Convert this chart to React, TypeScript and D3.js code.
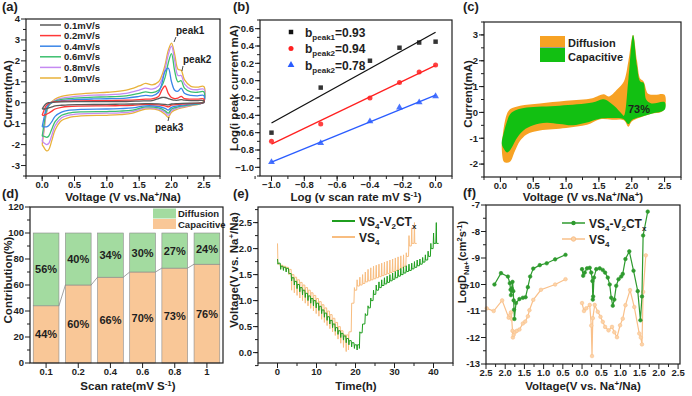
import React, { useEffect } from 'react';
import * as d3 from 'd3';

const FONT = "'Liberation Sans', Arial, sans-serif";
const INK = '#1e1e1e';

// ---------- (a) CV curves at different scan rates ----------
const CV_RATES = ['0.1mV/s', '0.2mV/s', '0.4mV/s', '0.6mV/s', '0.8mV/s', '1.0mV/s'];
const CV_COLORS = ['#5a5a5a', '#ff3838', '#3a86e8', '#3cbf6e', '#c58af2', '#e8b23a'];
const CV_UP_V = [0.0, 0.03, 0.06, 0.1, 0.15, 0.2, 0.3, 0.5, 0.8, 1.0, 1.3, 1.5, 1.6, 1.7, 1.8, 1.85, 1.9, 1.95, 2.0, 2.05, 2.1, 2.15, 2.2, 2.3, 2.4, 2.5];
const CV_DOWN_V = [2.5, 2.45, 2.3, 2.1, 2.0, 1.95, 1.9, 1.8, 1.6, 1.4, 1.2, 1.0, 0.6, 0.4, 0.3, 0.2, 0.15, 0.1, 0.07, 0.04, 0.02, 0.0];
const CV_UP_I = [
  [-0.3, -0.15, -0.05, 0.0, 0.02, 0.03, 0.04, 0.05, 0.05, 0.05, 0.06, 0.08, 0.09, 0.1, 0.2, 0.25, 0.25, 0.2, 0.15, 0.12, 0.12, 0.15, 0.12, 0.1, 0.1, 0.1],
  [-0.6, -0.35, -0.15, -0.03, 0.02, 0.05, 0.07, 0.09, 0.1, 0.1, 0.12, 0.15, 0.17, 0.18, 0.3, 0.6, 0.8, 0.45, 0.25, 0.2, 0.22, 0.3, 0.2, 0.17, 0.17, 0.18],
  [-1.15, -0.7, -0.3, -0.08, 0.0, 0.05, 0.1, 0.15, 0.18, 0.19, 0.22, 0.3, 0.35, 0.33, 0.5, 0.9, 1.5, 1.65, 1.0, 0.6, 0.55, 0.7, 0.45, 0.35, 0.33, 0.35],
  [-1.6, -1.0, -0.45, -0.12, 0.0, 0.08, 0.16, 0.22, 0.27, 0.28, 0.33, 0.45, 0.52, 0.48, 0.6, 0.8, 1.2, 1.9, 2.35, 1.5, 1.0, 1.05, 0.7, 0.52, 0.5, 0.52],
  [-1.85, -1.2, -0.55, -0.15, 0.02, 0.12, 0.22, 0.3, 0.36, 0.38, 0.45, 0.6, 0.7, 0.65, 0.8, 1.1, 1.6, 2.3, 2.7, 2.0, 1.3, 1.3, 0.9, 0.65, 0.62, 0.65],
  [-2.0, -1.3, -0.6, -0.15, 0.05, 0.18, 0.3, 0.4, 0.47, 0.5, 0.6, 0.8, 0.92, 0.85, 1.0, 1.3, 1.8, 2.5, 2.85, 2.3, 1.6, 1.55, 1.1, 0.78, 0.75, 0.78],
];
const CV_DOWN_I = [
  [0.0, -0.01, -0.02, -0.04, -0.06, -0.1, -0.08, -0.05, -0.04, -0.06, -0.07, -0.08, -0.09, -0.1, -0.12, -0.15, -0.2, -0.25, -0.28, -0.3, -0.3, -0.3],
  [0.02, -0.02, -0.04, -0.08, -0.12, -0.2, -0.15, -0.1, -0.08, -0.12, -0.14, -0.15, -0.16, -0.18, -0.22, -0.3, -0.4, -0.5, -0.55, -0.58, -0.6, -0.6],
  [0.03, -0.03, -0.07, -0.15, -0.22, -0.35, -0.27, -0.18, -0.15, -0.25, -0.28, -0.3, -0.32, -0.36, -0.45, -0.65, -0.9, -1.1, -1.15, -1.15, -1.15, -1.15],
  [0.05, -0.04, -0.1, -0.2, -0.3, -0.5, -0.38, -0.25, -0.2, -0.35, -0.4, -0.42, -0.44, -0.5, -0.6, -0.9, -1.25, -1.6, -1.65, -1.62, -1.6, -1.6],
  [0.05, -0.05, -0.12, -0.25, -0.38, -0.6, -0.45, -0.3, -0.25, -0.42, -0.48, -0.5, -0.53, -0.6, -0.72, -1.1, -1.55, -1.95, -2.0, -1.95, -1.9, -1.85],
  [0.1, -0.05, -0.15, -0.3, -0.45, -0.7, -0.55, -0.35, -0.3, -0.5, -0.57, -0.6, -0.63, -0.72, -0.85, -1.3, -1.8, -2.25, -2.3, -2.2, -2.1, -2.0],
];

// ---------- (b) log(i) vs log(v) ----------
const LOG_V = [-1.0, -0.7, -0.4, -0.22, -0.1, 0.0];
const LOG_I_PEAK1 = [-0.6, -0.08, 0.23, 0.38, 0.44, 0.45];
const LOG_I_PEAK2 = [-0.7, -0.5, -0.2, -0.02, 0.1, 0.18];
const LOG_I_PEAK3 = [-0.94, -0.72, -0.47, -0.31, -0.25, -0.18];
const B_LABELS = [['peak1', '=0.93'], ['peak2', '=0.94'], ['peak2', '=0.78']];

// ---------- (c) capacitive share at 1.0 mV/s ----------
const C_TOTAL_UP_V = [0.02, 0.05, 0.1, 0.15, 0.3, 0.6, 1.0, 1.4, 1.57, 1.65, 1.78, 1.88, 1.95, 2.02, 2.08, 2.13, 2.18, 2.25, 2.35, 2.5];
const C_TOTAL_UP_I = [-1.3, -0.6, -0.05, 0.13, 0.26, 0.35, 0.45, 0.55, 0.7, 0.62, 0.9, 1.2, 2.0, 3.0, 2.0, 1.3, 1.2, 0.72, 0.68, 0.68];
const C_TOTAL_DOWN_V = [2.5, 2.45, 2.3, 2.13, 2.0, 1.95, 1.88, 1.7, 1.52, 1.32, 1.0, 0.6, 0.4, 0.3, 0.22, 0.15, 0.1, 0.05, 0.02];
const C_TOTAL_DOWN_I = [0.15, 0.02, -0.05, -0.2, -0.35, -0.55, -0.3, -0.28, -0.26, -0.48, -0.6, -0.7, -0.85, -1.1, -1.5, -1.9, -1.95, -1.9, -1.3];
const C_CAP_UP_V = [0.02, 0.05, 0.1, 0.15, 0.25, 0.4, 0.9, 1.4, 1.57, 1.73, 1.85, 1.88, 1.95, 2.02, 2.08, 2.13, 2.18, 2.22, 2.3, 2.5];
const C_CAP_UP_I = [-1.2, -0.8, -0.35, -0.06, 0.1, 0.19, 0.26, 0.38, 0.51, 0.26, -0.06, -0.13, 1.3, 3.0, 1.8, 1.2, 1.15, 0.5, 0.35, 0.4];
const C_CAP_DOWN_V = [2.5, 2.3, 2.1, 2.0, 1.95, 1.87, 1.7, 1.5, 1.3, 1.1, 0.9, 0.7, 0.5, 0.35, 0.25, 0.15, 0.1, 0.05];
const C_CAP_DOWN_I = [0.1, -0.05, -0.2, -0.3, -0.45, -0.25, -0.22, -0.25, -0.4, -0.5, -0.45, -0.4, -0.5, -0.7, -1.0, -1.45, -1.55, -1.4];

// ---------- (d) contribution bars ----------
const D_RATES = ['0.1', '0.2', '0.4', '0.6', '0.8', '1'];
const D_CAPACITIVE = [44, 60, 66, 70, 73, 76];
const D_DIFFUSION = [56, 40, 34, 30, 27, 24];

// ---------- (e) GITT profiles ----------
const GITT_STEP = 0.7; // h per titration
const E_GREEN_DIS_START = 0;
const E_GREEN_DIS_REST = [1.8, 1.72, 1.66, 1.64, 1.62, 1.52, 1.44, 1.37, 1.31, 1.25, 1.2, 1.14, 1.09, 1.04, 1.0, 0.95, 0.89, 0.82, 0.76, 0.69, 0.62, 0.55, 0.48, 0.42, 0.37, 0.32, 0.27, 0.23, 0.19, 0.15];
const E_GREEN_DIS_PULSE = [1.7, 1.6, 1.58, 1.55, 1.52, 1.38, 1.3, 1.23, 1.17, 1.11, 1.06, 1.0, 0.95, 0.9, 0.86, 0.81, 0.75, 0.68, 0.62, 0.55, 0.48, 0.41, 0.35, 0.29, 0.24, 0.19, 0.15, 0.11, 0.08, 0.05];
const E_GREEN_CHG_START = 21.0;
const E_GREEN_CHG_REST = [0.08, 0.38, 0.55, 0.72, 0.86, 1.0, 1.12, 1.2, 1.25, 1.29, 1.32, 1.35, 1.38, 1.41, 1.44, 1.47, 1.5, 1.53, 1.56, 1.58, 1.61, 1.64, 1.67, 1.7, 1.74, 1.78, 1.85, 2.0, 2.1];
const E_GREEN_CHG_PULSE = [0.4, 0.55, 0.75, 0.9, 1.05, 1.2, 1.3, 1.36, 1.4, 1.44, 1.47, 1.5, 1.53, 1.56, 1.59, 1.62, 1.65, 1.67, 1.7, 1.72, 1.75, 1.78, 1.8, 1.83, 1.88, 1.95, 2.1, 2.3, 2.5];
const E_ORANGE_DIS_START = 0;
const E_ORANGE_DIS_REST = [2.1, 1.7, 1.68, 1.66, 1.64, 1.6, 1.5, 1.45, 1.4, 1.35, 1.3, 1.25, 1.2, 1.15, 1.1, 1.04, 0.98, 0.92, 0.86, 0.8, 0.73, 0.66, 0.58, 0.5, 0.42, 0.34];
const E_ORANGE_DIS_PULSE = [1.7, 1.62, 1.6, 1.58, 1.5, 1.2, 1.15, 1.1, 1.05, 1.0, 0.95, 0.9, 0.85, 0.8, 0.75, 0.7, 0.64, 0.58, 0.52, 0.46, 0.4, 0.33, 0.26, 0.18, 0.1, 0.02];
const E_ORANGE_CHG_START = 18.2;
const E_ORANGE_CHG_REST = [0.05, 0.4, 0.95, 1.2, 1.28, 1.3, 1.33, 1.36, 1.38, 1.4, 1.42, 1.44, 1.46, 1.48, 1.5, 1.52, 1.54, 1.56, 1.58, 1.6, 1.63, 1.66, 1.85, 2.05, 2.1];
const E_ORANGE_CHG_PULSE = [0.4, 0.95, 1.25, 1.4, 1.45, 1.5, 1.55, 1.6, 1.63, 1.66, 1.68, 1.7, 1.72, 1.74, 1.76, 1.78, 1.8, 1.82, 1.84, 1.86, 1.88, 1.92, 2.25, 2.4, 2.5];

// ---------- (f) diffusion coefficients ----------
const F_GREEN_DIS_V = [2.28, 2.11, 1.93, 1.88, 1.86, 1.85, 1.83, 1.81, 1.79, 1.78, 1.77, 1.76, 1.72, 1.63, 1.54, 1.47, 1.41, 1.35, 1.27, 1.1, 0.92, 0.7, 0.43];
const F_GREEN_DIS_D = [-10.0, -9.57, -9.7, -9.95, -10.2, -10.4, -10.15, -9.9, -10.25, -10.6, -10.95, -11.3, -10.7, -10.55, -10.5, -10.48, -10.1, -9.7, -9.4, -9.27, -9.2, -9.05, -8.88];
const F_GREEN_CHG_V = [0.0, 0.03, 0.07, 0.13, 0.2, 0.24, 0.27, 0.28, 0.29, 0.31, 0.37, 0.46, 0.54, 0.6, 0.67, 0.72, 0.76, 0.8, 0.84, 0.89, 0.95, 1.02, 1.06, 1.13, 1.23, 1.34, 1.45, 1.52, 1.56, 1.59, 1.71];
const F_GREEN_CHG_D = [-9.42, -9.67, -9.55, -9.39, -9.37, -9.55, -9.87, -10.57, -10.45, -9.74, -9.42, -9.39, -9.45, -9.55, -9.74, -10.0, -10.5, -10.8, -10.57, -10.05, -9.8, -9.7, -9.6, -9.04, -8.75, -9.48, -10.25, -11.35, -10.45, -8.15, -7.25];
const F_ORANGE_DIS_V = [2.48, 2.3, 2.08, 1.91, 1.87, 1.85, 1.83, 1.81, 1.8, 1.78, 1.75, 1.7, 1.63, 1.54, 1.48, 1.41, 1.37, 1.27, 1.07, 0.7, 0.43];
const F_ORANGE_DIS_D = [-10.9, -11.0, -10.6, -11.25, -11.15, -11.05, -11.3, -11.75, -12.0, -11.9, -11.8, -11.75, -11.7, -11.47, -11.4, -11.2, -10.97, -10.58, -10.2, -10.0, -9.8];
const F_ORANGE_CHG_V = [0.0, 0.05, 0.11, 0.2, 0.24, 0.26, 0.28, 0.33, 0.41, 0.48, 0.54, 0.6, 0.69, 0.78, 0.84, 0.91, 0.99, 1.06, 1.13, 1.25, 1.36, 1.49, 1.53, 1.56, 1.59, 1.66];
const F_ORANGE_CHG_D = [-10.7, -11.0, -10.9, -10.77, -11.55, -12.7, -11.27, -10.77, -11.03, -11.22, -11.41, -11.6, -11.73, -11.6, -11.8, -11.99, -11.54, -11.29, -10.78, -10.21, -10.85, -11.85, -12.0, -12.26, -10.28, -8.9];

const GREEN_E = '#1f9e1f';
const ORANGE_E = '#f8bd80';

type Lin = d3.ScaleLinear<number, number>;

function zip(a: number[], b: number[]): [number, number][] {
  return a.map((v, i) => [v, b[i]]);
}

function Frame({ x, y, xTicks, yTicks, xFmt, yFmt, xMinor = [], yMinor = [] }: {
  x: Lin; y: Lin; xTicks: number[]; yTicks: number[];
  xFmt: (v: number) => string; yFmt: (v: number) => string;
  xMinor?: number[]; yMinor?: number[];
}) {
  const [l, r] = x.range();
  const [b, t] = y.range();
  return (
    <g fontFamily={FONT} fontWeight="bold" fontSize={9.5} fill={INK}>
      <rect x={l} y={t} width={r - l} height={b - t} fill="none" stroke={INK} strokeWidth={1.2} />
      {xMinor.map((v, i) => <line key={'xm' + i} x1={x(v)} x2={x(v)} y1={b} y2={b + 3} stroke={INK} />)}
      {yMinor.map((v, i) => <line key={'ym' + i} x1={l - 3} x2={l} y1={y(v)} y2={y(v)} stroke={INK} />)}
      {xTicks.map((v, i) => (
        <g key={'x' + i}>
          <line x1={x(v)} x2={x(v)} y1={b} y2={b + 5} stroke={INK} />
          <text x={x(v)} y={b + 12} textAnchor="middle">{xFmt(v)}</text>
        </g>
      ))}
      {yTicks.map((v, i) => (
        <g key={'y' + i}>
          <line x1={l - 5} x2={l} y1={y(v)} y2={y(v)} stroke={INK} />
          <text x={l - 6} y={y(v) + 3.3} textAnchor="end">{yFmt(v)}</text>
        </g>
      ))}
    </g>
  );
}

function gittPoints(start: number, rest: number[], pulse: number[]): [number, number][] {
  const pts: [number, number][] = [];
  rest.forEach((r, i) => {
    const t = start + i * GITT_STEP;
    const next = i + 1 < rest.length ? rest[i + 1] : r;
    pts.push([t, r], [t + 0.12, pulse[i]], [t + 0.2, next], [t + GITT_STEP, next]);
  });
  return pts;
}

const fmt1 = d3.format('.1f');
const range = (a: number, b: number, s: number) => d3.range(a, b + s / 2, s).map((v) => +v.toFixed(3));

export default function App() {
  useEffect(() => { document.body.style.margin = '0'; }, []);

  // scales
  const xA = d3.scaleLinear().domain([-0.25, 2.75]).range([26, 220]);
  const yA = d3.scaleLinear().domain([-3.5, 4]).range([176, 19]);
  const xB = d3.scaleLinear().domain([-1.07, 0.1]).range([260, 452]);
  const yB = d3.scaleLinear().domain([-1.1, 0.7]).range([176, 20]);
  const xC = d3.scaleLinear().domain([-0.25, 2.75]).range([484, 681]);
  const yC = d3.scaleLinear().domain([-2.5, 3.5]).range([177, 22]);
  const xD = d3.scaleBand().domain(D_RATES).range([30, 223]).paddingInner(0.2).paddingOuter(0.1);
  const yD = d3.scaleLinear().domain([0, 120]).range([363, 207]);
  const xE = d3.scaleLinear().domain([-5, 45]).range([258, 453]);
  const yE = d3.scaleLinear().domain([-0.2, 2.8]).range([363, 207]);
  const xF = d3.scaleLinear().domain([-2.5, 2.55]).range([486, 680]);
  const yF = d3.scaleLinear().domain([-13, -7]).range([364, 205]);

  const lineA = d3.line<[number, number]>().x((d) => xA(d[0])).y((d) => yA(d[1])).curve(d3.curveCatmullRom.alpha(0.5));
  const areaC = d3.line<[number, number]>().x((d) => xC(d[0])).y((d) => yC(d[1])).curve(d3.curveCatmullRomClosed.alpha(0.5));
  const lineE = d3.line<[number, number]>().x((d) => xE(d[0])).y((d) => yE(d[1]));
  const lineF = d3.line<[number, number]>().x((d) => xF(d[0])).y((d) => yF(d[1]));

  // least-squares fits for (b)
  const fit = (ys: number[]) => {
    const mx = d3.mean(LOG_V)!;
    const my = d3.mean(ys)!;
    const sxy = d3.sum(LOG_V, (v, i) => (v - mx) * (ys[i] - my));
    const sxx = d3.sum(LOG_V, (v) => (v - mx) ** 2);
    const k = sxy / sxx;
    return [[-1, my + k * (-1 - mx)], [0, my + k * (0 - mx)]] as [number, number][];
  };
  const lineB = d3.line<[number, number]>().x((d) => xB(d[0])).y((d) => yB(d[1]));
  const B_SERIES = [
    { ys: LOG_I_PEAK1, color: '#111111', shape: d3.symbolSquare },
    { ys: LOG_I_PEAK2, color: '#ff2020', shape: d3.symbolCircle },
    { ys: LOG_I_PEAK3, color: '#2a5cff', shape: d3.symbolTriangle },
  ];

  const greenE = [...gittPoints(E_GREEN_DIS_START, E_GREEN_DIS_REST, E_GREEN_DIS_PULSE), ...gittPoints(E_GREEN_CHG_START, E_GREEN_CHG_REST, E_GREEN_CHG_PULSE)];
  const orangeE = [...gittPoints(E_ORANGE_DIS_START, E_ORANGE_DIS_REST, E_ORANGE_DIS_PULSE), ...gittPoints(E_ORANGE_CHG_START, E_ORANGE_CHG_REST, E_ORANGE_CHG_PULSE)];

  const F_SERIES = [
    { dis: zip(F_ORANGE_DIS_V.map((v) => -v), F_ORANGE_DIS_D), chg: zip(F_ORANGE_CHG_V, F_ORANGE_CHG_D), line: '#f9c08a', fill: '#fcd3a8' },
    { dis: zip(F_GREEN_DIS_V.map((v) => -v), F_GREEN_DIS_D), chg: zip(F_GREEN_CHG_V, F_GREEN_CHG_D), line: '#2e9a2e', fill: '#2e9a2e' },
  ];

  const title = { fontFamily: FONT, fontWeight: 'bold' as const, fontSize: 11.5, fill: INK };
  const panel = { fontFamily: FONT, fontWeight: 'bold' as const, fontSize: 13, fill: INK };

  return (
    <svg width={692} height={396} style={{ display: 'block', background: '#fff' }}>
      {/* ---------------- (a) ---------------- */}
      <g>
        {CV_RATES.map((_, k) => 5 - k).map((k) => (
          <path key={k} d={lineA([...zip(CV_UP_V, CV_UP_I[k]), ...zip(CV_DOWN_V, CV_DOWN_I[k])]) || ''}
            fill="none" stroke={CV_COLORS[k]} strokeWidth={1.3} />
        ))}
        <Frame x={xA} y={yA} xTicks={range(0, 2.5, 0.5)} yTicks={range(-3, 4, 1)} xFmt={fmt1} yFmt={(v) => String(v)}
          xMinor={range(-0.25, 2.75, 0.25)} yMinor={range(-3.5, 3.5, 1)} />
        {CV_RATES.map((r, k) => (
          <g key={r}>
            <line x1={40} x2={61} y1={25 + k * 10.6} y2={25 + k * 10.6} stroke={CV_COLORS[k]} strokeWidth={1.5} />
            <text x={64} y={28.5 + k * 10.6} fontFamily={FONT} fontWeight="bold" fontSize={9.5} fill={INK}>{r}</text>
          </g>
        ))}
        <g fontFamily={FONT} fontWeight="bold" fontSize={10} fill={INK}>
          <text x={176} y={34}>peak1</text>
          <line x1={176} y1={37} x2={174} y2={42} stroke={INK} strokeWidth={0.8} />
          <text x={183} y={63}>peak2</text>
          <line x1={183} y1={66} x2={182} y2={71} stroke={INK} strokeWidth={0.8} />
          <text x={155} y={131}>peak3</text>
          <line x1={168} y1={121} x2={169} y2={117} stroke={INK} strokeWidth={0.8} />
        </g>
        <text transform="translate(12,94) rotate(-90)" textAnchor="middle" {...title}>Current(mA)</text>
        <text x={123} y={201} textAnchor="middle" {...title}>Voltage (V vs.Na<tspan dy={-4} fontSize={8}>+</tspan><tspan dy={4}>/Na)</tspan></text>
        <text x={2} y={11} {...panel}>(a)</text>
      </g>

      {/* ---------------- (b) ---------------- */}
      <g>
        {B_SERIES.map((s, k) => (
          <g key={k}>
            <path d={lineB(fit(s.ys)) || ''} stroke={s.color} strokeWidth={1.3} fill="none" />
            {s.ys.map((v, i) => (
              <path key={i} transform={`translate(${xB(LOG_V[i])},${yB(v)})`} d={d3.symbol(s.shape, 20)() || ''} fill={s.color} opacity={0.85} />
            ))}
            <path transform={`translate(291,${32 + k * 16.5})`} d={d3.symbol(s.shape, 20)() || ''} fill={s.color} />
            <text x={305} y={36.5 + k * 16.5} fontFamily={FONT} fontWeight="bold" fontSize={12} fill={INK}>
              b<tspan dy={3} fontSize={8}>{B_LABELS[k][0]}</tspan><tspan dy={-3}>{B_LABELS[k][1]}</tspan>
            </text>
          </g>
        ))}
        <Frame x={xB} y={yB} xTicks={range(-1, 0, 0.2)} yTicks={range(-1, 0.6, 0.2)} xFmt={fmt1} yFmt={fmt1}
          xMinor={range(-1.1, 0.1, 0.1)} yMinor={range(-1.1, 0.7, 0.1)} />
        <text transform="translate(238,88) rotate(-90)" textAnchor="middle" {...title}>Log(i peak current mA)</text>
        <text x={356} y={201} textAnchor="middle" {...title}>Log (v scan rate mV S<tspan dy={-4} fontSize={8}>-1</tspan><tspan dy={4}>)</tspan></text>
        <text x={233} y={11} {...panel}>(b)</text>
      </g>

      {/* ---------------- (c) ---------------- */}
      <g>
        <path d={areaC([...zip(C_TOTAL_UP_V, C_TOTAL_UP_I), ...zip(C_TOTAL_DOWN_V, C_TOTAL_DOWN_I)]) || ''} fill="#f7a224" />
        <path d={areaC([...zip(C_CAP_UP_V, C_CAP_UP_I), ...zip(C_CAP_DOWN_V, C_CAP_DOWN_I)]) || ''} fill="#12c012" />
        <Frame x={xC} y={yC} xTicks={range(0, 2.5, 0.5)} yTicks={range(-2, 3, 1)} xFmt={fmt1} yFmt={(v) => String(v)}
          xMinor={range(-0.25, 2.75, 0.25)} yMinor={range(-2.5, 3.5, 0.5)} />
        <rect x={540} y={36} width={25} height={11} fill="#f7a224" />
        <line x1={540} x2={565} y1={47.5} y2={47.5} stroke="#999" strokeWidth={1} />
        <rect x={540} y={48} width={25} height={14} fill="#12c012" />
        <g fontFamily={FONT} fontWeight="bold" fontSize={11} fill={INK}>
          <text x={568} y={47}>Diffusion</text>
          <text x={568} y={61}>Capacitive</text>
          <text x={628} y={113}>73%</text>
        </g>
        <text transform="translate(472,94) rotate(-90)" textAnchor="middle" {...title}>Current(mA)</text>
        <text x={583} y={201} textAnchor="middle" {...title}>Voltage (V vs.Na<tspan dy={-4} fontSize={8}>+</tspan><tspan dy={4}>/Na</tspan><tspan dy={-4} fontSize={8}>+</tspan><tspan dy={4}>)</tspan></text>
        <text x={463} y={11} {...panel}>(c)</text>
      </g>

      {/* ---------------- (d) ---------------- */}
      <g>
        {D_RATES.map((r, i) => {
          const x0 = xD(r)!;
          const w = xD.bandwidth();
          const cap = D_CAPACITIVE[i];
          const dif = D_DIFFUSION[i];
          return (
            <g key={r}>
              <rect x={x0} y={yD(cap)} width={w} height={yD(0) - yD(cap)} fill="#f9c797" stroke="#8a8a8a" strokeWidth={0.6} />
              <rect x={x0} y={yD(cap + dif)} width={w} height={yD(cap) - yD(cap + dif)} fill="#a3dba0" stroke="#8a8a8a" strokeWidth={0.6} />
              {i < D_RATES.length - 1 && (
                <line x1={x0 + w} y1={yD(cap)} x2={xD(D_RATES[i + 1])!} y2={yD(D_CAPACITIVE[i + 1])} stroke="#8a8a8a" strokeWidth={0.8} />
              )}
              <g fontFamily={FONT} fontWeight="bold" fontSize={11} fill={INK} textAnchor="middle">
                <text x={x0 + w / 2} y={yD(cap / 2) + 4}>{cap}%</text>
                <text x={x0 + w / 2} y={yD(cap + dif / 2) + 4}>{dif}%</text>
              </g>
            </g>
          );
        })}
        <g fontFamily={FONT} fontWeight="bold" fontSize={9.5} fill={INK}>
          <rect x={30} y={207} width={193} height={156} fill="none" stroke={INK} strokeWidth={1.2} />
          {range(0, 120, 20).map((v) => (
            <g key={v}>
              <line x1={25} x2={30} y1={yD(v)} y2={yD(v)} stroke={INK} />
              <text x={24} y={yD(v) + 3.3} textAnchor="end">{v}</text>
            </g>
          ))}
          {range(10, 110, 20).map((v) => <line key={'m' + v} x1={27} x2={30} y1={yD(v)} y2={yD(v)} stroke={INK} />)}
          {D_RATES.map((r) => (
            <g key={r}>
              <line x1={xD(r)! + xD.bandwidth() / 2} x2={xD(r)! + xD.bandwidth() / 2} y1={363} y2={368} stroke={INK} />
              <text x={xD(r)! + xD.bandwidth() / 2} y={375} textAnchor="middle">{r}</text>
            </g>
          ))}
        </g>
        <rect x={153} y={208.5} width={23} height={10} fill="#a3dba0" />
        <rect x={153} y={219} width={23} height={10} fill="#f9c797" />
        <g fontFamily={FONT} fontWeight="bold" fontSize={9.5} fill={INK}>
          <text x={178} y={217}>Diffusion</text>
          <text x={178} y={228}>Capacitive</text>
        </g>
        <text transform="translate(12,280) rotate(-90)" textAnchor="middle" {...title}>Contribution(%)</text>
        <text x={128} y={390} textAnchor="middle" {...title}>Scan rate(mV S<tspan dy={-4} fontSize={8}>-1</tspan><tspan dy={4}>)</tspan></text>
        <text x={2} y={198} {...panel}>(d)</text>
      </g>

      {/* ---------------- (e) ---------------- */}
      <g>
        <path d={lineE(orangeE) || ''} fill="none" stroke={ORANGE_E} strokeWidth={1} />
        <path d={lineE(greenE) || ''} fill="none" stroke={GREEN_E} strokeWidth={1} />
        <Frame x={xE} y={yE} xTicks={range(0, 40, 10)} yTicks={range(0, 2.5, 0.5)} xFmt={(v) => String(v)} yFmt={fmt1}
          xMinor={range(-5, 45, 5)} yMinor={range(-0.25, 2.75, 0.25)} />
        <line x1={332} x2={355} y1={221} y2={221} stroke={GREEN_E} strokeWidth={2} />
        <line x1={332} x2={355} y1={237} y2={237} stroke={ORANGE_E} strokeWidth={2} />
        <g fontFamily={FONT} fontWeight="bold" fontSize={12} fill={INK}>
          <text x={359} y={225.5}>VS<tspan dy={3} fontSize={8}>4</tspan><tspan dy={-3}>-V</tspan><tspan dy={3} fontSize={8}>2</tspan><tspan dy={-3}>CT</tspan><tspan dy={3} fontSize={8}>x</tspan></text>
          <text x={359} y={241.5}>VS<tspan dy={3} fontSize={8}>4</tspan></text>
        </g>
        <text transform="translate(238,270) rotate(-90)" textAnchor="middle" {...title}>Voltage(V vs. Na<tspan dy={-4} fontSize={8}>+</tspan><tspan dy={4}>/Na)</tspan></text>
        <text x={356} y={390} textAnchor="middle" {...title}>Time(h)</text>
        <text x={233} y={198} {...panel}>(e)</text>
      </g>

      {/* ---------------- (f) ---------------- */}
      <g>
        {F_SERIES.map((s, k) => (
          <g key={k}>
            {[s.dis, s.chg].map((seg, j) => (
              <g key={j}>
                <path d={lineF(seg) || ''} fill="none" stroke={s.line} strokeWidth={1.2} />
                {seg.map((d, i) => (
                  <circle key={i} cx={xF(d[0])} cy={yF(d[1])} r={1.8} fill={s.fill} stroke={s.line} strokeWidth={0.6} />
                ))}
              </g>
            ))}
          </g>
        ))}
        <Frame x={xF} y={yF} xTicks={range(-2.5, 2.5, 0.5)} yTicks={range(-13, -7, 1)} xFmt={(v) => fmt1(Math.abs(v))} yFmt={(v) => String(v)}
          xMinor={range(-2.25, 2.25, 0.5)} yMinor={range(-12.5, -7.5, 1)} />
        <line x1={562} x2={585} y1={223} y2={223} stroke="#2e9a2e" strokeWidth={1.5} />
        <circle cx={573.5} cy={223} r={2.2} fill="#2e9a2e" />
        <line x1={562} x2={585} y1={239} y2={239} stroke="#f9c08a" strokeWidth={1.5} />
        <circle cx={573.5} cy={239} r={2.2} fill="#fcd3a8" stroke="#f9c08a" />
        <g fontFamily={FONT} fontWeight="bold" fontSize={12} fill={INK}>
          <text x={589} y={227.5}>VS<tspan dy={3} fontSize={8}>4</tspan><tspan dy={-3}>-V</tspan><tspan dy={3} fontSize={8}>2</tspan><tspan dy={-3}>CT</tspan><tspan dy={3} fontSize={8}>x</tspan></text>
          <text x={589} y={243.5}>VS<tspan dy={3} fontSize={8}>4</tspan></text>
        </g>
        <text transform="translate(466,262) rotate(-90)" textAnchor="middle" {...title} fontSize={11}>LogD<tspan dy={3} fontSize={7.5}>Na+</tspan><tspan dy={-3}>(cm</tspan><tspan dy={-4} fontSize={7.5}>2</tspan><tspan dy={4}>s</tspan><tspan dy={-4} fontSize={7.5}>-1</tspan><tspan dy={4}>)</tspan></text>
        <text x={583} y={390} textAnchor="middle" {...title}>Voltage(V vs. Na<tspan dy={-4} fontSize={8}>+</tspan><tspan dy={4}>/Na)</tspan></text>
        <text x={463} y={197} {...panel}>(f)</text>
      </g>
    </svg>
  );
}
